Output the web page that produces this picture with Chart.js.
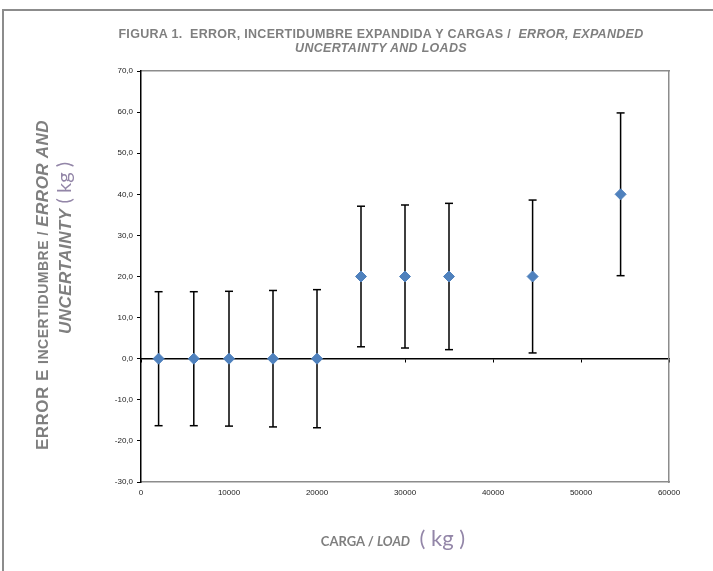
<!DOCTYPE html>
<html><head><meta charset="utf-8">
<script src="https://cdn.jsdelivr.net/npm/chart.js@4.4.0/dist/chart.umd.min.js"></script>
<style>
html,body{margin:0;padding:0;background:#fff;}
#wrap{position:relative;width:713px;height:571px;overflow:hidden;}
#frame{position:absolute;left:2px;top:9px;width:800px;height:700px;border-left:2px solid #8c8c8c;border-top:2px solid #8c8c8c;}
canvas{position:absolute;left:0;top:0;}
.t{position:absolute;white-space:nowrap;color:#7f7f7f;font-family:"Liberation Sans",Arial,sans-serif;transform:translate(-50%,-50%);}
.r{transform:translate(-50%,-50%) rotate(-90deg);}
.kg{font-family:Lato,"Open Sans",sans-serif;font-weight:normal;font-style:normal;color:#9386a8;letter-spacing:0;}
</style></head>
<body><div id="wrap"><div id="frame"></div><canvas id="c" width="713" height="571"></canvas>
<div class="t" style="left:381px;top:34px;font-weight:bold;font-size:12.5px;letter-spacing:0.3px;">FIGURA 1.&nbsp; ERROR, INCERTIDUMBRE EXPANDIDA Y CARGAS /&nbsp; <i>ERROR, EXPANDED</i></div>
<div class="t" style="left:381px;top:48px;font-weight:bold;font-size:12.5px;letter-spacing:0.3px;"><i>UNCERTAINTY AND LOADS</i></div>
<div class="t r" style="left:43px;top:285px;font-weight:bold;letter-spacing:0.5px;"><span style="font-size:17px;">ERROR E </span><span style="font-size:14px;">INCERTIDUMBRE / </span><i style="font-size:17px;">ERROR AND</i></div>
<div class="t r" style="left:63px;top:248px;font-weight:bold;letter-spacing:0.5px;"><i style="font-size:17px;">UNCERTAINTY</i> <span class="kg" style="font-size:20px;">(&nbsp;kg&nbsp;)</span></div>
<div class="t" style="left:393px;top:537px;font-family:Lato,sans-serif;font-weight:bold;font-size:13px;">CARGA / <i>LOAD</i>&nbsp;&nbsp; <span class="kg" style="font-size:22px;">(&nbsp;kg&nbsp;)</span></div>
</div>
<script>
const loads = [2000, 6000, 10000, 15000, 20000, 25000, 30000, 35000, 44500, 54500];
const errors = [0, 0, 0, 0, 0, 20, 20, 20, 20, 40];
const uncertainty = [16.3, 16.3, 16.4, 16.6, 16.8, 17.1, 17.4, 17.8, 18.6, 19.8];
const yTickLabels = ['-30,0','-20,0','-10,0','0,0','10,0','20,0','30,0','40,0','50,0','60,0','70,0'];
const xTickLabels = ['0','10000','20000','30000','40000','50000','60000'];

const pointData = loads.map((x, i) => ({x: x, y: errors[i]}));
const barData = [];
loads.forEach((x, i) => {
  barData.push({x: x, y: errors[i] - uncertainty[i]});
  barData.push({x: x, y: errors[i] + uncertainty[i]});
  barData.push({x: x, y: null});
});

const fam = '"Liberation Sans", Arial, sans-serif';
const tickFont = {family: fam, size: 8};

new Chart(document.getElementById('c'), {
  type: 'scatter',
  data: {
    datasets: [
      {
        label: 'Error',
        data: pointData,
        pointStyle: 'rectRot',
        pointRadius: 5.5,
        backgroundColor: '#4F81BD',
        borderColor: '#4F81BD',
        borderWidth: 1,
        order: 0
      },
      {
        label: 'U',
        data: barData,
        showLine: true,
        spanGaps: false,
        borderColor: '#000',
        borderWidth: 1.5,
        pointStyle: 'line',
        pointRadius: 4,
        pointBorderColor: '#000',
        pointBorderWidth: 1.5,
        order: 1
      }
    ]
  },
  options: {
    responsive: false,
    animation: false,
    events: [],
    layout: {padding: {left: 0, top: 71, right: 44, bottom: 69}},
    plugins: {legend: {display: false}, tooltip: {enabled: false}, title: {display: false}},
    scales: {
      x: {
        type: 'linear', position: 'bottom', min: 0, max: 60000,
        ticks: {stepSize: 10000, autoSkip: false, maxRotation: 0, padding: 6, font: tickFont, color: '#222',
          callback: (v, i) => xTickLabels[i]},
        grid: {display: false, drawTicks: false},
        border: {display: true, color: '#8c8c8c', width: 1.5},
        afterFit: (s) => { s.height = 20; }
      },
      xZero: {
        type: 'linear', position: {y: 0}, min: 0, max: 60000,
        ticks: {display: false, stepSize: 10000},
        grid: {drawOnChartArea: false, drawTicks: true, tickLength: 3, color: '#000', lineWidth: 1},
        border: {display: true, color: '#000', width: 1.5}
      },
      xTop: {
        type: 'linear', position: 'top', min: 0, max: 60000,
        ticks: {display: false},
        grid: {display: false, drawTicks: false},
        border: {display: true, color: '#8c8c8c', width: 1.5},
        afterFit: (s) => { s.height = 0; }
      },
      y: {
        type: 'linear', position: 'left', min: -30, max: 70,
        ticks: {stepSize: 10, autoSkip: false, padding: 4, font: tickFont, color: '#222',
          callback: (v, i) => yTickLabels[i]},
        grid: {drawOnChartArea: false, drawTicks: true, tickLength: 4, color: '#000', lineWidth: 1},
        border: {display: true, color: '#000', width: 1.5},
        afterFit: (s) => { s.width = 141; }
      },
      yRight: {
        type: 'linear', position: 'right', min: -30, max: 70,
        ticks: {display: false},
        grid: {display: false, drawTicks: false},
        border: {display: true, color: '#8c8c8c', width: 1.5},
        afterFit: (s) => { s.width = 0; }
      }
    }
  }
});
</script>
</body></html>
